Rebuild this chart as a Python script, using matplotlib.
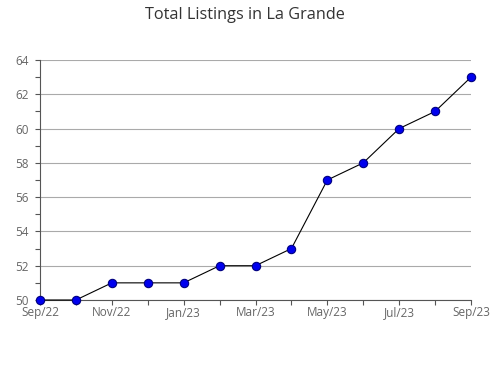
import matplotlib
matplotlib.use("Agg")
import matplotlib.pyplot as plt
from matplotlib.ticker import MultipleLocator

plt.rcParams['font.family'] = ['Open Sans', 'DejaVu Sans']

# Data
months = ['Sep/22', 'Oct/22', 'Nov/22', 'Dec/22', 'Jan/23', 'Feb/23', 'Mar/23',
          'Apr/23', 'May/23', 'Jun/23', 'Jul/23', 'Aug/23', 'Sep/23']
listings = [50, 50, 51, 51, 51, 52, 52, 53, 57, 58, 60, 61, 63]

fig = plt.figure(figsize=(4.9, 3.8), dpi=100)
ax = fig.add_axes([40 / 490, 1 - 300 / 380, 431 / 490, 240 / 380])

x = list(range(len(months)))
ax.plot(x, listings, color='black', linewidth=0.8, marker='o', markersize=6,
        markerfacecolor='#0000ee', markeredgecolor='#000080', markeredgewidth=0.8,
        clip_on=False, zorder=3)

ax.set_xlim(0, len(months) - 1)
ax.set_ylim(50, 64)
ax.set_xticks(x)
ax.set_xticklabels([m if i % 2 == 0 else '' for i, m in enumerate(months)])
ax.yaxis.set_major_locator(MultipleLocator(2))
ax.yaxis.set_minor_locator(MultipleLocator(1))

ax.grid(axis='y', which='major', color='#aaaaaa', linewidth=0.8)
ax.set_axisbelow(True)
for s in ['top', 'right']:
    ax.spines[s].set_visible(False)
for s in ['left', 'bottom']:
    ax.spines[s].set_color('#555555')
    ax.spines[s].set_linewidth(0.8)

ax.tick_params(axis='both', which='both', direction='out', length=3.6, width=0.8,
               color='#555555', labelcolor='#666666', labelsize=8.5)
ax.tick_params(axis='x', pad=0.5)
ax.tick_params(axis='y', which='major', pad=14.4)
for lbl in ax.get_yticklabels():
    lbl.set_horizontalalignment('left')

fig.suptitle('Total Listings in La Grande', x=0.5, y=1 - 15 / 380, va='center',
             fontsize=11.7, color='#333333')

fig.savefig('out.png', dpi=100)
